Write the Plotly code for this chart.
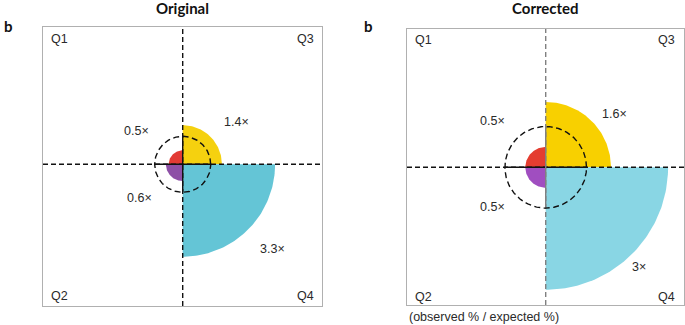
import numpy as np
import plotly.graph_objects as go

# ---------------- data ----------------
quadrants = ["Q1", "Q2", "Q3", "Q4"]
original_ratio = [0.5, 0.6, 1.4, 3.3]
corrected_ratio = [0.5, 0.5, 1.6, 3.0]
panel_titles = ["Original", "Corrected"]
footnote = "(observed % / expected %)"

# ---------------- styles ----------------
colors_original = ["#e23b35", "#8d50a6", "#f5d10f", "#64c5d6"]
colors_corrected = ["#e43d30", "#a04ec0", "#f8d000", "#89d6e4"]
quad_start_deg = {"Q1": 90, "Q2": 180, "Q3": 0, "Q4": 270}

W, H = 685, 325
FONT = "Liberation Sans, Arial, sans-serif"
TXT = "#2a2a2a"

# panel geometry in pixels: box left, right, top, bottom, center x, center y, px per unit
panels = [
    dict(l=43, r=322, t=27, b=306, cx=182.7, cy=164.3, s=28.0, vcol="#111111"),
    dict(l=407, r=684, t=29, b=305, cx=545.7, cy=167.3, s=40.8, vcol="#808080"),
]
# label offsets (data units) per quadrant per panel
label_pos = [
    {"Q1": (-1.65, 1.19), "Q2": (-1.53, -1.2), "Q3": (1.92, 1.51), "Q4": (3.22, -3.03)},
    {"Q1": (-1.30, 1.13), "Q2": (-1.30, -0.97), "Q3": (1.68, 1.30), "Q4": (2.29, -2.44)},
]
# quadrant corner label pixel positions (x, y, anchor)
corner_pos = [
    {"Q1": (49, 39, "left"), "Q3": (316, 39, "right"), "Q2": (49, 296, "left"), "Q4": (316, 296, "right")},
    {"Q1": (413, 40, "left"), "Q3": (677, 40, "right"), "Q2": (413, 297, "left"), "Q4": (677, 297, "right")},
]

fig = go.Figure()
layout_axes = {}
annotations = []

for i, (p, ratios, cols) in enumerate(zip(panels, [original_ratio, corrected_ratio],
                                          [colors_original, colors_corrected])):
    xa = "x" if i == 0 else "x2"
    ya = "y" if i == 0 else "y2"
    xr = [(p["l"] - p["cx"]) / p["s"], (p["r"] - p["cx"]) / p["s"]]
    yr = [-(p["b"] - p["cy"]) / p["s"], (p["cy"] - p["t"]) / p["s"]]
    axcommon = dict(showgrid=False, zeroline=False, showticklabels=False, ticks="",
                    showline=True, mirror=True, linecolor="#b0b0b0", linewidth=1, fixedrange=True)
    layout_axes["xaxis" if i == 0 else "xaxis2"] = dict(
        domain=[p["l"] / W, p["r"] / W], range=xr, anchor=ya, **axcommon)
    layout_axes["yaxis" if i == 0 else "yaxis2"] = dict(
        domain=[1 - p["b"] / H, 1 - p["t"] / H], range=yr, anchor=xa, **axcommon)

    # quarter-circle wedges (radius proportional to ratio)
    for q, v, c in zip(quadrants, ratios, cols):
        a0 = np.deg2rad(quad_start_deg[q])
        th = np.linspace(a0, a0 + np.pi / 2, 80)
        xs = np.concatenate([[0], v * np.cos(th), [0]])
        ys = np.concatenate([[0], v * np.sin(th), [0]])
        fig.add_trace(go.Scatter(x=xs, y=ys, mode="lines", fill="toself", fillcolor=c,
                                 line=dict(width=0, color=c), xaxis=xa, yaxis=ya,
                                 hoverinfo="skip", showlegend=False))
        lx, ly = label_pos[i][q]
        annotations.append(dict(x=lx, y=ly, xref=xa, yref=ya, text=f"{v:g}×", showarrow=False,
                                font=dict(family=FONT, size=12.5, color=TXT),
                                xanchor="center", yanchor="middle"))

    # dashed axis lines
    fig.add_trace(go.Scatter(x=[xr[0], xr[1]], y=[0, 0], mode="lines",
                             line=dict(color="#111111", width=1.4, dash="5px,3px"),
                             xaxis=xa, yaxis=ya, hoverinfo="skip", showlegend=False))
    fig.add_trace(go.Scatter(x=[0, 0], y=[yr[0], yr[1]], mode="lines",
                             line=dict(color=p["vcol"], width=1.4, dash="5px,3px"),
                             xaxis=xa, yaxis=ya, hoverinfo="skip", showlegend=False))
    # solid segments within the reference circle (ratio = 1)
    fig.add_trace(go.Scatter(x=[-1, 1], y=[0, 0], mode="lines",
                             line=dict(color="#111111", width=1.4),
                             xaxis=xa, yaxis=ya, hoverinfo="skip", showlegend=False))
    fig.add_trace(go.Scatter(x=[0, 0], y=[-1, 1], mode="lines",
                             line=dict(color=p["vcol"], width=1.4),
                             xaxis=xa, yaxis=ya, hoverinfo="skip", showlegend=False))
    # dashed reference circle (ratio = 1)
    th = np.linspace(0, 2 * np.pi, 240)
    fig.add_trace(go.Scatter(x=np.cos(th), y=np.sin(th), mode="lines",
                             line=dict(color="#111111", width=1.4, dash="6px,3.5px"),
                             xaxis=xa, yaxis=ya, hoverinfo="skip", showlegend=False))

    # corner quadrant labels
    for q, (x, y, anc) in corner_pos[i].items():
        annotations.append(dict(x=x / W, y=1 - y / H, xref="paper", yref="paper", text=q,
                                showarrow=False, xanchor=anc, yanchor="middle",
                                font=dict(family=FONT, size=12.5, color=TXT)))
    # title
    annotations.append(dict(x=p["cx"] / W, y=1 - 8 / H, xref="paper", yref="paper",
                            text=f"<b>{panel_titles[i]}</b>", showarrow=False,
                            xanchor="center", yanchor="middle",
                            font=dict(family="Lato, sans-serif", size=15, color="#111111")))
    # panel letter
    bx = 2 if i == 0 else 362
    annotations.append(dict(x=bx / W, y=1 - 26 / H, xref="paper", yref="paper",
                            text="<b>b</b>", showarrow=False, xanchor="left", yanchor="middle",
                            font=dict(family="Lato, sans-serif", size=15, color="#111111")))

annotations.append(dict(x=407 / W, y=1 - 317 / H, xref="paper", yref="paper", text=footnote,
                        showarrow=False, xanchor="left", yanchor="middle",
                        font=dict(family=FONT, size=12.5, color=TXT)))

fig.update_layout(width=W, height=H, margin=dict(l=0, r=0, t=0, b=0),
                  paper_bgcolor="white", plot_bgcolor="white",
                  annotations=annotations, **layout_axes)

fig.write_html("out.html", config={"displayModeBar": False},
               post_script="document.body.style.margin='0';document.body.style.overflow='hidden';")
